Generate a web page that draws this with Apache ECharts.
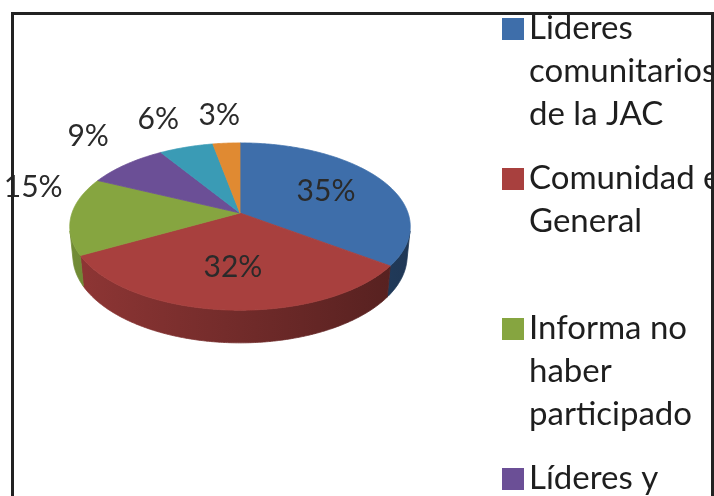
<!DOCTYPE html>
<html>
<head>
<meta charset="utf-8">
<script src="https://cdn.jsdelivr.net/npm/echarts@6/dist/echarts.min.js"></script>
<style>
    html, body { margin: 0; padding: 0; background: #fff; }
    #chart { width: 714px; height: 496px; }
</style>
</head>
<body>
<div id="chart"></div>
<script>
// datos del grafico
const categories = ['Lideres comunitarios de la JAC', 'Comunidad en General', 'Informa no haber participado', 'Líderes y comunidad', 'No sabe', 'Otros'];
const legendLabels = ['Lideres\ncomunitarios\nde la JAC', 'Comunidad en\nGeneral\n ', 'Informa no\nhaber\nparticipado', 'Líderes y\ncomunidad\n ', 'No sabe\n \n ', 'Otros\n \n '];
const values = [35, 32, 15, 9, 6, 3];
const colors = ['#3E6EAA', '#A8403E', '#86A540', '#6B4F96', '#3A9BB5', '#E08A32'];

// geometria del pastel 3D (perspectiva)
const CX = 240, CY = 213, R = 168, TILT = 29 * Math.PI / 180, FOCAL = 907, DEPTH = 34;
const total = values.reduce((a, b) => a + b, 0);
const cum = [0];
values.forEach(v => cum.push(cum[cum.length - 1] + v));

const cosLim = -R / (FOCAL * Math.cos(TILT));
const VIS1 = Math.acos(cosLim) * 180 / Math.PI;
const VIS2 = 360 - VIS1;

function project(deg, rho, down) {
    const t = deg * Math.PI / 180;
    const x = rho * R * Math.sin(t);
    const y = rho * R * Math.cos(t) * Math.sin(TILT) - down * Math.cos(TILT);
    const z = rho * R * Math.cos(t) * Math.cos(TILT) + down * Math.sin(TILT);
    const s = FOCAL / (FOCAL + z);
    return [CX + x * s, CY - y * s];
}

function shade(hex, f) {
    const n = parseInt(hex.slice(1), 16);
    const r = Math.round(((n >> 16) & 255) * f);
    const g = Math.round(((n >> 8) & 255) * f);
    const b = Math.round((n & 255) * f);
    return 'rgb(' + r + ',' + g + ',' + b + ')';
}

function renderSlice(i) {
    return function (params, api) {
        const start = cum[i] / total * 360;
        const end = cum[i + 1] / total * 360;
        const color = api.visual('color');
        const children = [];

        // cara lateral visible
        const a = Math.max(start, VIS1), b = Math.min(end, VIS2);
        if (b > a) {
            const pts = [];
            for (let t = a; t < b; t += 0.5) pts.push(project(t, 1, 0));
            pts.push(project(b, 1, 0));
            for (let t = b; t > a; t -= 0.5) pts.push(project(t, 1, DEPTH));
            pts.push(project(a, 1, DEPTH));
            const xl = project(VIS2, 1, 0)[0], xr = project(VIS1, 1, 0)[0];
            const grad = new echarts.graphic.LinearGradient(xl, 0, xr, 0, [
                { offset: 0, color: shade(color, 0.85) },
                { offset: 1, color: shade(color, 0.5) }
            ], true);
            children.push({
                type: 'polygon',
                shape: { points: pts },
                style: { fill: grad, stroke: grad, lineWidth: 0.8 },
                z2: 1
            });
        }

        // cara superior
        const top = [project(0, 0, 0)];
        for (let t = start; t < end; t += 0.5) top.push(project(t, 1, 0));
        top.push(project(end, 1, 0));
        children.push({
            type: 'polygon',
            shape: { points: top },
            style: { fill: color, stroke: color, lineWidth: 0.8 },
            z2: 2
        });

        // etiqueta de porcentaje
        const mid = (start + end) / 2;
        const pct = Math.round(values[i] / total * 100) + '%';
        let lx, ly;
        if (values[i] / total >= 0.2) {
            [lx, ly] = project(mid, 0.6, 0);
        } else {
            const rim = project(mid, 1, 0);
            const m = mid * Math.PI / 180;
            lx = rim[0] + Math.max(-1, Math.min(1, 2 * Math.sin(m))) * 38;
            ly = rim[1] + (Math.cos(m) > -0.3 ? -28 : 28);
        }
        children.push({
            type: 'text',
            style: {
                text: pct, x: lx, y: ly, align: 'center', verticalAlign: 'middle',
                fontFamily: 'Lato', fontSize: 30, fill: '#2a2a2a'
            },
            z2: 3
        });

        return { type: 'group', children: children };
    };
}

const chart = echarts.init(document.getElementById('chart'));

const option = {
    animation: false,
    legend: {
        orient: 'vertical',
        left: 502,
        top: 7,
        height: 1000,
        padding: 0,
        itemWidth: 22,
        itemHeight: 129,
        itemGap: 21,
        icon: 'path://M0,0h0.01M0,11h22v22h-22zM0,129h0.01',
        textStyle: { fontFamily: 'Lato', fontSize: 33, lineHeight: 43, color: '#1e1e1e' },
        formatter: name => legendLabels[categories.indexOf(name)],
        data: categories
    },
    graphic: [{
        type: 'rect',
        silent: true,
        z: 100,
        shape: { x: 12.5, y: 13.5, width: 700, height: 600 },
        style: { fill: 'none', stroke: '#222', lineWidth: 3 }
    }],
    series: categories.map((name, i) => ({
        type: 'custom',
        name: name,
        coordinateSystem: 'none',
        itemStyle: { color: colors[i] },
        renderItem: renderSlice(i),
        data: [values[i]]
    }))
};

chart.setOption(option);
</script>
</body>
</html>
